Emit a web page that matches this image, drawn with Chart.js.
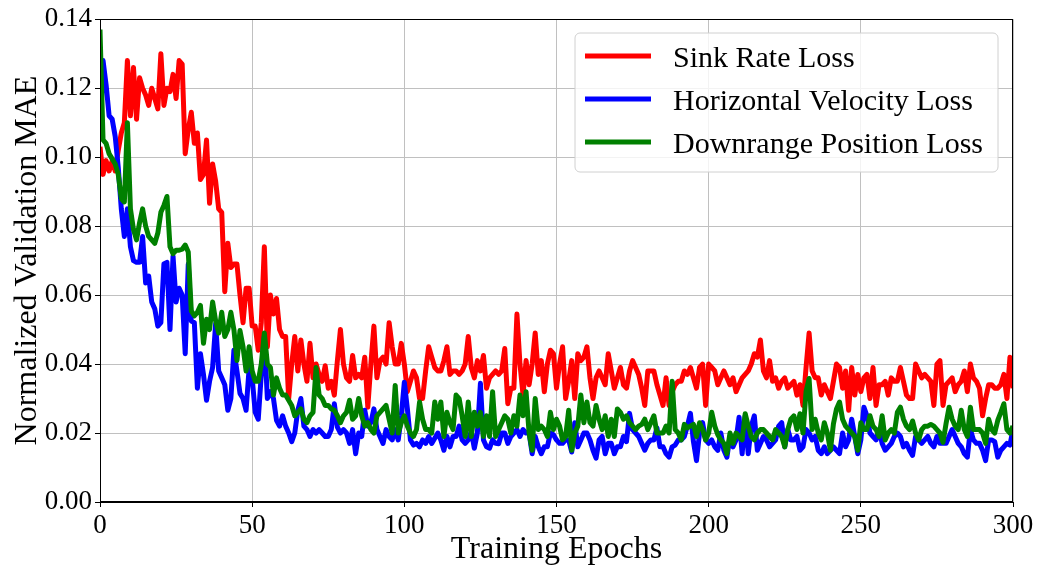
<!DOCTYPE html>
<html>
<head>
<meta charset="utf-8">
<script src="https://cdn.jsdelivr.net/npm/chart.js@4.4.1/dist/chart.umd.min.js"></script>
<style>
html,body{margin:0;padding:0;background:#fff;}
#wrap{width:1037px;height:569px;position:relative;}
</style>
</head>
<body>
<div id="wrap"><canvas id="c" width="1037" height="569"></canvas></div>
<script>
const seriesNames = ["Sink Rate Loss", "Horizontal Velocity Loss", "Downrange Position Loss"];
const xTicks = [0, 50, 100, 150, 200, 250, 300];
const yTicks = [0.00, 0.02, 0.04, 0.06, 0.08, 0.10, 0.12, 0.14];

const sinkRate = [
0.103,0.095,0.099,0.096,0.099,0.096,0.102,0.107,0.110,0.128,
0.112,0.126,0.111,0.123,0.120,0.118,0.115,0.120,0.117,0.114,
0.130,0.115,0.120,0.119,0.124,0.117,0.128,0.127,0.101,0.108,
0.113,0.104,0.107,0.0935,0.095,0.105,0.0866,0.098,0.093,0.085,
0.084,0.061,0.075,0.068,0.069,0.069,0.060,0.052,0.062,0.062,
0.051,0.051,0.044,0.052,0.074,0.045,0.060,0.0545,0.059,0.050,
0.048,0.048,0.030,0.040,0.048,0.038,0.047,0.040,0.035,0.046,
0.036,0.040,0.037,0.035,0.0395,0.033,0.035,0.031,0.041,0.050,
0.040,0.036,0.035,0.0425,0.036,0.037,0.036,0.042,0.0275,0.040,
0.051,0.036,0.041,0.042,0.040,0.052,0.045,0.040,0.040,0.046,
0.040,0.032,0.035,0.038,0.036,0.030,0.030,0.038,0.045,0.042,
0.039,0.038,0.038,0.041,0.045,0.037,0.038,0.038,0.037,0.038,
0.040,0.048,0.039,0.036,0.041,0.038,0.0425,0.033,0.036,0.037,
0.038,0.037,0.038,0.0445,0.0285,0.033,0.033,0.0545,0.040,0.031,
0.041,0.034,0.040,0.049,0.037,0.041,0.032,0.040,0.044,0.043,
0.033,0.040,0.045,0.030,0.035,0.041,0.030,0.043,0.041,0.042,
0.045,0.036,0.030,0.036,0.038,0.036,0.034,0.043,0.038,0.033,
0.036,0.039,0.034,0.033,0.038,0.041,0.039,0.037,0.033,0.028,
0.038,0.038,0.038,0.034,0.031,0.028,0.036,0.028,0.032,0.034,
0.035,0.035,0.038,0.037,0.039,0.036,0.033,0.039,0.040,0.028,
0.040,0.039,0.038,0.034,0.036,0.038,0.036,0.034,0.036,0.032,
0.034,0.036,0.037,0.038,0.040,0.043,0.042,0.047,0.038,0.036,
0.041,0.035,0.036,0.033,0.035,0.036,0.033,0.034,0.035,0.031,
0.034,0.028,0.039,0.049,0.038,0.036,0.036,0.031,0.034,0.032,
0.030,0.035,0.040,0.039,0.033,0.038,0.0266,0.039,0.031,0.037,
0.032,0.036,0.037,0.030,0.039,0.028,0.034,0.034,0.035,0.031,
0.036,0.035,0.035,0.039,0.035,0.031,0.030,0.030,0.040,0.038,
0.036,0.037,0.036,0.035,0.028,0.040,0.041,0.028,0.034,0.035,
0.036,0.032,0.034,0.035,0.038,0.032,0.040,0.036,0.035,0.033,
0.025,0.030,0.034,0.034,0.033,0.033,0.034,0.037,0.030,0.042,
0.033];

const horizVelocity = [
0.105,0.128,0.121,0.112,0.111,0.106,0.097,0.085,0.077,0.085,
0.074,0.070,0.0695,0.0695,0.077,0.0635,0.0655,0.058,0.056,0.051,
0.052,0.069,0.0695,0.050,0.0713,0.058,0.062,0.060,0.043,0.069,
0.0525,0.052,0.033,0.043,0.037,0.0295,0.035,0.039,0.0517,0.038,
0.036,0.034,0.0266,0.030,0.044,0.038,0.0315,0.030,0.0266,0.0387,
0.036,0.026,0.024,0.037,0.048,0.030,0.032,0.030,0.0237,0.022,
0.025,0.022,0.020,0.0175,0.020,0.0266,0.030,0.022,0.021,0.019,
0.021,0.020,0.021,0.020,0.019,0.019,0.021,0.0285,0.0217,0.020,
0.021,0.020,0.017,0.021,0.014,0.020,0.019,0.0266,0.022,0.023,
0.027,0.021,0.019,0.017,0.021,0.019,0.018,0.021,0.018,0.025,
0.0347,0.027,0.018,0.0165,0.017,0.016,0.018,0.017,0.019,0.017,
0.0185,0.020,0.018,0.015,0.019,0.016,0.019,0.019,0.022,0.018,
0.017,0.018,0.0205,0.0156,0.020,0.0344,0.018,0.016,0.0156,0.018,
0.017,0.0169,0.020,0.020,0.017,0.019,0.020,0.021,0.019,0.021,
0.020,0.020,0.014,0.019,0.016,0.014,0.016,0.016,0.020,0.0195,
0.018,0.017,0.017,0.018,0.018,0.0145,0.023,0.016,0.018,0.020,
0.020,0.018,0.015,0.0127,0.018,0.019,0.014,0.017,0.017,0.014,
0.016,0.016,0.019,0.0175,0.0257,0.021,0.020,0.019,0.017,0.015,
0.017,0.018,0.018,0.0215,0.016,0.016,0.014,0.013,0.016,0.0165,
0.018,0.018,0.019,0.022,0.0257,0.0175,0.012,0.020,0.023,0.018,
0.017,0.018,0.016,0.015,0.020,0.015,0.013,0.019,0.016,0.018,
0.0246,0.014,0.025,0.014,0.022,0.025,0.015,0.017,0.019,0.018,
0.016,0.017,0.018,0.022,0.023,0.016,0.021,0.018,0.018,0.019,
0.015,0.016,0.021,0.020,0.018,0.019,0.015,0.014,0.016,0.014,
0.015,0.016,0.015,0.014,0.020,0.016,0.018,0.024,0.019,0.014,
0.018,0.0275,0.025,0.020,0.019,0.018,0.021,0.017,0.015,0.016,
0.017,0.019,0.020,0.019,0.016,0.017,0.015,0.0135,0.019,0.018,
0.017,0.018,0.019,0.017,0.016,0.019,0.017,0.017,0.017,0.019,
0.021,0.019,0.017,0.016,0.014,0.013,0.021,0.018,0.017,0.017,
0.015,0.012,0.018,0.018,0.0175,0.013,0.015,0.016,0.017,0.0165,
0.021];

const downrangePos = [
0.137,0.105,0.104,0.101,0.0995,0.098,0.095,0.088,0.087,0.110,
0.085,0.079,0.076,0.081,0.085,0.080,0.077,0.076,0.075,0.078,
0.084,0.086,0.0886,0.074,0.072,0.073,0.073,0.0733,0.0745,0.0725,
0.0554,0.054,0.055,0.057,0.046,0.053,0.050,0.058,0.0525,0.049,
0.055,0.048,0.050,0.055,0.050,0.041,0.0497,0.045,0.038,0.045,
0.038,0.035,0.035,0.040,0.049,0.040,0.039,0.031,0.036,0.033,
0.031,0.031,0.0295,0.028,0.025,0.026,0.027,0.024,0.023,0.025,
0.026,0.039,0.031,0.030,0.028,0.028,0.027,0.0266,0.025,0.023,
0.025,0.026,0.0295,0.024,0.025,0.030,0.025,0.022,0.023,0.021,
0.020,0.025,0.026,0.027,0.028,0.024,0.020,0.0338,0.020,0.023,
0.025,0.022,0.020,0.019,0.021,0.029,0.024,0.021,0.021,0.020,
0.029,0.024,0.029,0.019,0.026,0.023,0.021,0.031,0.030,0.025,
0.019,0.029,0.019,0.026,0.022,0.026,0.019,0.025,0.019,0.032,
0.019,0.021,0.023,0.025,0.024,0.020,0.025,0.022,0.031,0.025,
0.032,0.020,0.015,0.030,0.021,0.022,0.021,0.019,0.026,0.021,
0.024,0.022,0.018,0.019,0.0266,0.015,0.020,0.022,0.031,0.023,
0.029,0.023,0.022,0.028,0.024,0.021,0.025,0.019,0.024,0.019,
0.027,0.026,0.024,0.025,0.023,0.022,0.021,0.022,0.0225,0.024,
0.021,0.023,0.025,0.020,0.020,0.020,0.022,0.020,0.035,0.021,
0.020,0.018,0.0225,0.0215,0.022,0.0225,0.019,0.023,0.021,0.018,
0.020,0.026,0.022,0.0195,0.018,0.017,0.014,0.020,0.017,0.020,
0.019,0.018,0.0256,0.022,0.019,0.018,0.020,0.021,0.021,0.020,
0.019,0.018,0.021,0.020,0.019,0.016,0.021,0.024,0.025,0.021,
0.0256,0.020,0.032,0.0358,0.021,0.024,0.020,0.018,0.023,0.020,
0.015,0.0227,0.027,0.029,0.024,0.022,0.021,0.020,0.019,0.015,
0.023,0.021,0.021,0.025,0.022,0.021,0.019,0.025,0.018,0.020,
0.021,0.020,0.026,0.0275,0.024,0.022,0.021,0.0235,0.020,0.018,
0.021,0.022,0.022,0.0225,0.022,0.021,0.020,0.0173,0.0227,0.0275,
0.024,0.022,0.021,0.0266,0.021,0.019,0.0275,0.021,0.021,0.021,
0.020,0.017,0.024,0.021,0.020,0.0237,0.026,0.0285,0.021,0.020,
0.022];

const colors = ["#ff0000", "#0000ff", "#008000"];
const allSeries = [sinkRate, horizVelocity, downrangePos];
const FONT = "'Liberation Serif', 'DejaVu Serif', serif";

function toXY(arr){ return arr.map((v, i) => ({x: i, y: v})); }

const frame = {
  id: 'frame',
  afterDatasetsDraw(chart){
    const {ctx, chartArea: a} = chart;
    ctx.save();
    ctx.strokeStyle = '#000';
    ctx.lineWidth = 1;
    ctx.strokeRect(Math.round(a.left) + 0.5, Math.round(a.top) + 0.5,
                   Math.round(a.right - a.left) - 1, Math.round(a.bottom - a.top) - 1);
    ctx.restore();
  }
};

const boxLegend = {
  id: 'boxLegend',
  afterDatasetsDraw(chart){
    const ctx = chart.ctx;
    const bx = 575, by = 33, bw = 423, bh = 139, r = 5;
    ctx.save();
    ctx.beginPath();
    ctx.moveTo(bx + r, by);
    ctx.arcTo(bx + bw, by, bx + bw, by + bh, r);
    ctx.arcTo(bx + bw, by + bh, bx, by + bh, r);
    ctx.arcTo(bx, by + bh, bx, by, r);
    ctx.arcTo(bx, by, bx + bw, by, r);
    ctx.closePath();
    ctx.fillStyle = 'rgba(255,255,255,0.8)';
    ctx.fill();
    ctx.strokeStyle = '#d0d0d0';
    ctx.lineWidth = 1;
    ctx.stroke();
    [0, 1, 2].forEach((k, row) => {
      const ds = chart.data.datasets.find(d => d.seriesIndex === k);
      const y = 56 + row * 43;
      ctx.beginPath();
      ctx.moveTo(585, y);
      ctx.lineTo(651, y);
      ctx.strokeStyle = ds.borderColor;
      ctx.lineWidth = 5;
      ctx.stroke();
      ctx.fillStyle = '#000';
      ctx.font = "30px " + FONT;
      ctx.textAlign = 'left';
      ctx.textBaseline = 'alphabetic';
      ctx.fillText(ds.label, 673, y + 10.5);
    });
    ctx.restore();
  }
};

const datasets = [2, 1, 0].map((k, idx) => ({
  label: seriesNames[k],
  seriesIndex: k,
  data: toXY(allSeries[k]),
  borderColor: colors[k],
  backgroundColor: colors[k],
  borderWidth: 5,
  borderJoinStyle: 'round',
  borderCapStyle: 'butt',
  pointRadius: 0,
  tension: 0,
  fill: false,
  clip: 0,
  order: idx
}));

new Chart(document.getElementById('c'), {
  type: 'line',
  data: { datasets },
  options: {
    responsive: false,
    animation: false,
    devicePixelRatio: 1,
    layout: { padding: { left: 0, right: 24, top: 17, bottom: 0 } },
    plugins: { legend: { display: false }, tooltip: { enabled: false } },
    scales: {
      x: {
        type: 'linear',
        min: 0, max: 300,
        afterFit(s){ s.height = 67; },
        afterBuildTicks(s){ s.ticks = xTicks.map(v => ({value: v})); },
        ticks: { color: '#000', font: { family: FONT, size: 27 }, padding: 3, maxRotation: 0,
                 callback: v => String(v) },
        grid: { color: '#c0c0c0', lineWidth: 1, tickLength: 5, tickColor: '#000', drawTicks: true },
        border: { color: '#000', width: 1 },
        title: { display: true, text: 'Training Epochs', color: '#000',
                 font: { family: FONT, size: 32 }, padding: { top: 0, bottom: 0 } }
      },
      y: {
        type: 'linear',
        min: 0, max: 0.14,
        afterFit(s){ s.width = 100; },
        afterBuildTicks(s){ s.ticks = yTicks.map(v => ({value: v})); },
        ticks: { color: '#000', font: { family: FONT, size: 27 }, padding: 3,
                 callback: v => Number(v).toFixed(2) },
        grid: { color: '#c0c0c0', lineWidth: 1, tickLength: 5, tickColor: '#000', drawTicks: true },
        border: { color: '#000', width: 1 },
        title: { display: true, text: 'Normalized Validation MAE', color: '#000',
                 font: { family: FONT, size: 32 }, padding: { top: 8, bottom: 0 } }
      }
    }
  },
  plugins: [frame, boxLegend]
});
</script>
</body>
</html>
